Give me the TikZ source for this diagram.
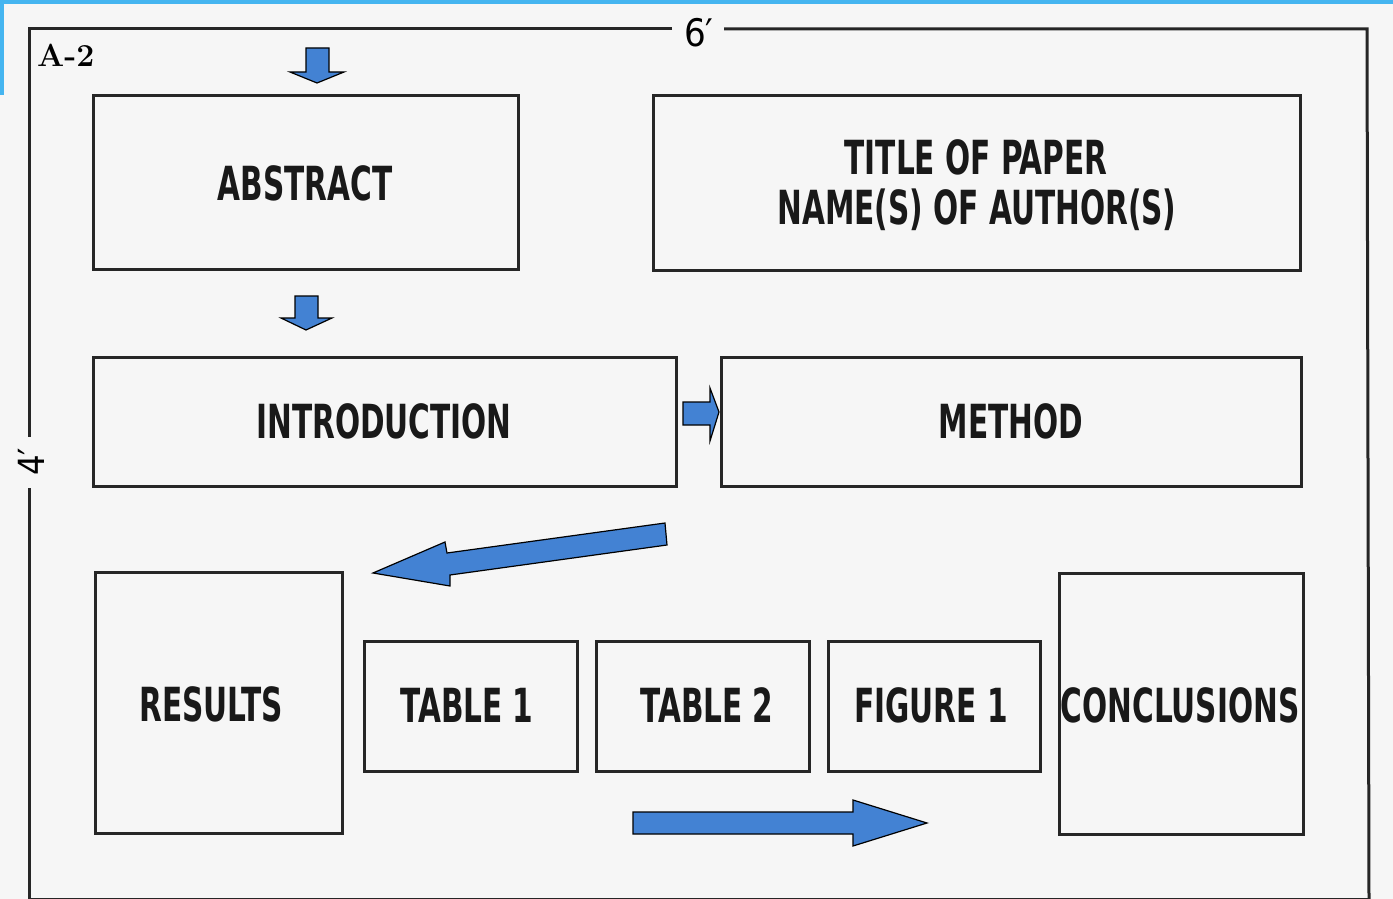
\documentclass[tikz,border=0pt]{standalone}
\usepackage{graphicx}
\usepackage{fontspec}
\newfontfamily\boxfont{DejaVu Sans Condensed}[BoldFont={DejaVu Sans Condensed Bold}]
\newcommand{\narrowtxt}[1]{\scalebox{0.7}[1]{#1}}
\definecolor{pagebg}{HTML}{F6F6F6}
\definecolor{edgeblue}{HTML}{45B5F0}
\definecolor{arrowblue}{HTML}{4382D3}
\begin{document}
\begin{tikzpicture}[x=1pt,y=-1pt,
  panel/.style={draw=black!85, line width=3pt, fill=none, inner sep=0pt},
  lbl/.style={font=\boxfont\bfseries\fontsize{47}{52}\selectfont, text=black!90, inner sep=0pt},
  blockarrow/.style={fill=arrowblue, draw=black, line width=1.2pt, line join=miter},
  frame/.style={draw=black!85, line width=3pt}
]
\useasboundingbox (0,0) rectangle (1393,899);
\fill[pagebg] (0,0) rectangle (1393,899);
% light blue edge
\fill[edgeblue] (0,0) rectangle (1393,4);
\fill[edgeblue] (0,0) rectangle (4,95);

% outer frame with gaps for dimension labels
\coordinate (tl) at (29,29);
\coordinate (tr) at (1367,29);
\coordinate (br) at (1369,899);
\coordinate (bl) at (29,899);
\draw[frame] (672,29) -- (tl) -- (29,437);
\draw[frame] (29,488) -- (bl);
\draw[frame] (724,29) -- (tr) -- (br);
\draw[frame] (bl) -- (br);
\node[font=\boxfont\fontsize{38}{40}\selectfont, inner sep=0pt] (six) at (699,33) {6′};
\node[font=\boxfont\fontsize{36}{40}\selectfont, rotate=90, inner sep=0pt] (four) at (31,462) {4′};
\node[font=\bfseries\fontsize{32}{34}\selectfont, anchor=west, inner sep=0pt] (a2) at (37,55) {A-2};

% panels
\draw[panel] (93,96) rectangle (518,269);
\node[lbl] (abstract) at (305,183) {\narrowtxt{ABSTRACT}};
\draw[panel] (653,96) rectangle (1300,270);
\node[lbl] (title) at (976,157) {\narrowtxt{TITLE OF PAPER}};
\node[lbl] (authors) at (977,210) {\narrowtxt{NAME(S) OF AUTHOR(S)}};
\draw[panel] (93,357) rectangle (676,486);
\node[lbl] (intro) at (384,421) {\narrowtxt{INTRODUCTION}};
\draw[panel] (721,357) rectangle (1301,486);
\node[lbl] (method) at (1011,421) {\narrowtxt{METHOD}};
\draw[panel] (95,572) rectangle (342,833);
\node[lbl] (results) at (211,704) {\narrowtxt{RESULTS}};
\draw[panel] (364,641) rectangle (577,771);
\node[lbl] (table1) at (467,705) {\narrowtxt{TABLE 1}};
\draw[panel] (596,641) rectangle (809,771);
\node[lbl] (table2) at (707,705) {\narrowtxt{TABLE 2}};
\draw[panel] (828,641) rectangle (1040,771);
\node[lbl] (figure1) at (931,705) {\narrowtxt{FIGURE 1}};
\draw[panel] (1059,573) rectangle (1303,834);
\node[lbl] (concl) at (1180,705) {\narrowtxt{CONCLUSIONS}};

% block arrows
\draw[blockarrow] (306,48) -- (329,48) -- (329,72) -- (344,72) -- (317,83) -- (290,72) -- (306,72) -- cycle;
\draw[blockarrow] (295,296) -- (318,296) -- (318,318) -- (332,318) -- (306,330) -- (281,318) -- (295,318) -- cycle;
\draw[blockarrow] (683,402) -- (710,402) -- (710,388) -- (719,412) -- (710,441) -- (710,425) -- (683,425) -- cycle;
\draw[blockarrow] (665,523) -- (667,545) -- (450,575) -- (450,586) -- (373,573) -- (445,542) -- (447,553) -- cycle;
\draw[blockarrow] (633,812) -- (853,812) -- (853,800) -- (927,823) -- (853,846) -- (853,834) -- (633,834) -- cycle;
\end{tikzpicture}
\end{document}
